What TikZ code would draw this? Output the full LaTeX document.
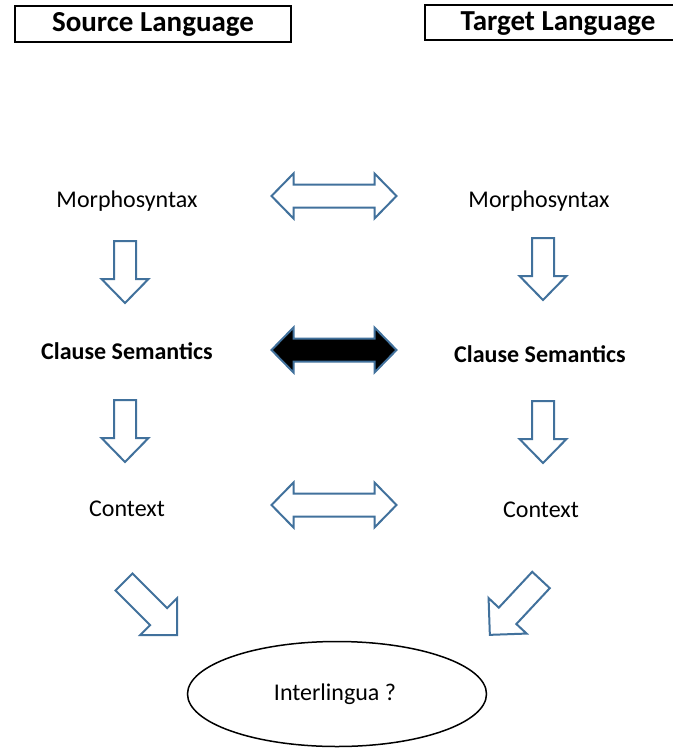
\documentclass[tikz,border=0pt]{standalone}
\usepackage{fontspec}
\setmainfont{Carlito}
\usetikzlibrary{shapes.geometric}
\definecolor{arrowblue}{HTML}{41719C}
\tikzset{
  lbl/.style={font=\fontsize{24}{28}\selectfont, inner sep=0pt},
  blbl/.style={font=\fontsize{24}{28}\selectfont\bfseries, inner sep=0pt},
  headbox/.style={draw=black, line width=1.2pt, font=\fontsize{29}{34}\selectfont\bfseries, inner sep=0pt},
  arrowline/.style={draw=arrowblue, line width=2pt, line join=miter, fill=white},
  pics/downarrow/.style={code={
    \path[arrowline] (-11,0) -- (11,0) -- (11,38) -- (23.5,38) -- (0,62) -- (-23.5,38) -- (-11,38) -- cycle;
  }},
  pics/dblarrow/.style={code={
    \path[arrowline,#1] (-62.5,0) -- (-40.5,-22.5) -- (-40.5,-11.5) -- (40.5,-11.5) -- (40.5,-22.5) -- (62.5,0)
      -- (40.5,22.5) -- (40.5,11.5) -- (-40.5,11.5) -- (-40.5,22.5) -- cycle;
  }},
  pics/diagarrow/.style={code={
    \path[arrowline] (0,-12) -- (49,-12) -- (49,-26) -- (75,0) -- (49,26) -- (49,12) -- (0,12) -- cycle;
  }},
}
\begin{document}
\begin{tikzpicture}[x=1pt,y=-1pt]
\useasboundingbox (0,0) rectangle (672,749);
\fill[white] (0,0) rectangle (672,749);

% header boxes
\node[headbox, minimum width=276pt, minimum height=36pt] (src) at (153,24) {Source Language};
\node[headbox, minimum width=260pt, minimum height=35pt] (tgt) at (555,22.5) {};
\node[font=\fontsize{29}{34}\selectfont\bfseries, inner sep=0pt] (tgtlbl) at (558,24) {Target Language};

% left column
\node[lbl] (morphL) at (127,201) {Morphosyntax};
\node[blbl] (clauseL) at (127,351) {Clause Semantics};
\node[lbl] (ctxL) at (127,509) {Context};
% right column
\node[lbl] (morphR) at (539,201) {Morphosyntax};
\node[blbl] (clauseR) at (540,354) {Clause Semantics};
\node[lbl] (ctxR) at (541,510) {Context};

% interlingua
\node[draw=black, line width=1.5pt, ellipse, minimum width=299pt, minimum height=105pt, inner sep=0pt] (inter) at (337,694) {};
\node[lbl] (interlbl) at (335,694) {Interlingua ?};

% down arrows
\pic at (125,241) {downarrow};
\pic at (543,238) {downarrow};
\pic at (125,400) {downarrow};
\pic at (543,401) {downarrow};

% double arrows
\pic at (334,196) {dblarrow};
\pic at (334,350) {dblarrow={fill=black}};
\pic at (334,505) {dblarrow};

% diagonal arrows
\pic[rotate=-45] at (124,582) {diagarrow};
\pic[rotate=-133] at (541,580) {diagarrow};
\end{tikzpicture}
\end{document}
